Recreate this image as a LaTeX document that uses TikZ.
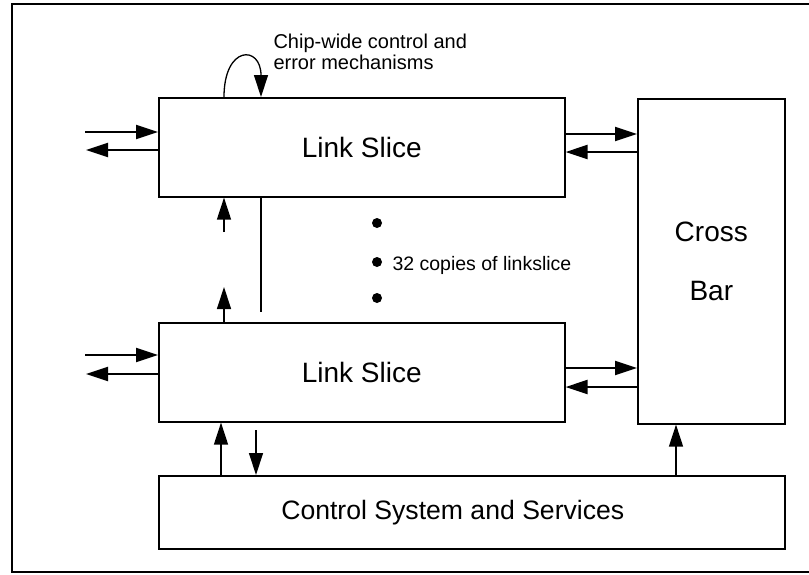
\documentclass[tikz,border=0pt]{standalone}
\usepackage{fontspec}
\setmainfont{Liberation Sans}
\usetikzlibrary{positioning, arrows.meta}

\tikzset{
  block/.style={draw, line width=1.6pt, inner sep=0pt, align=center,
    font=\fontsize{28}{31}\selectfont},
  bus/.style={line width=2.2pt, -{Triangle[length=22pt,width=14pt]}},
  sig/.style={line width=1.3pt, -{Triangle[length=22pt,width=14pt]}},
  dot/.style={circle, fill, inner sep=0pt, minimum size=10pt},
}

\begin{document}
\begin{tikzpicture}[x=1pt, y=-1pt]
    \useasboundingbox (0,0) rectangle (809,574);
    \draw[line width=1.2pt] (809,4) -- (12,4) -- (12,572) -- (809,572);

    % blocks
    \node[block, anchor=north west, minimum width=406pt, minimum height=99pt] (slice1) at (158,97) {Link Slice};
    \node[block, anchor=north west, minimum width=406pt, minimum height=99pt] (slice2) at (158,322) {Link Slice};
    \node[block, anchor=north west, minimum width=147pt, minimum height=325pt] (xbar) at (637,98) {Cross\\[28pt]Bar};
    \node[block, anchor=north west, minimum width=626pt, minimum height=73pt, font=\fontsize{26.6}{30}\selectfont] (ctrl) at (158,475) {\hspace*{-38pt}Control System and Services};

    % copies
    \node[dot] (d1) at (377,223) {};
    \node[dot] (d2) at (377,262) {};
    \node[dot] (d3) at (377,298) {};
    \node[anchor=west, font=\fontsize{19.5}{22}\selectfont] (copies) at (389,265) {32 copies of linkslice};

    % outside links
    \coordinate (in1) at (85,132);
    \coordinate (out1) at (86,150);
    \coordinate (in2) at (85,355);
    \coordinate (out2) at (86,374);
    \draw[bus] (in1) -- (in1 -| slice1.west);
    \draw[bus] (out1 -| slice1.west) -- (out1);
    \draw[bus] (in2) -- (in2 -| slice2.west);
    \draw[bus] (out2 -| slice2.west) -- (out2);

    % to the cross bar
    \draw[bus] (slice1.east |- 0,134) -- (xbar.west |- 0,134);
    \draw[bus] (xbar.west |- 0,152) -- (slice1.east |- 0,152);
    \draw[bus] (slice2.east |- 0,368) -- (xbar.west |- 0,368);
    \draw[bus] (xbar.west |- 0,387) -- (slice2.east |- 0,387);

    % between the slices
    \draw[sig] (224,232) -- (224,0 |- slice1.south);
    \draw[sig] (224,0 |- slice2.north) -- (224,287);
    \draw[line width=1.3pt] (261,0 |- slice1.south) -- (261,312);

    % control system
    \draw[sig] (221,0 |- ctrl.north) -- (221,0 |- slice2.south);
    \draw[sig] (256,430) -- (256,0 |- ctrl.north);
    \draw[sig] (676,0 |- ctrl.north) -- (676,0 |- xbar.south);

    % chip-wide
    \draw[sig] (224,0 |- slice1.north) .. controls (224,45) and (261,45) .. (261,0 |- slice1.north);
    \node[anchor=west, align=left, font=\fontsize{20}{21}\selectfont] (chip) at (270,52) {Chip-wide control and\\error mechanisms};
\end{tikzpicture}
\end{document}
